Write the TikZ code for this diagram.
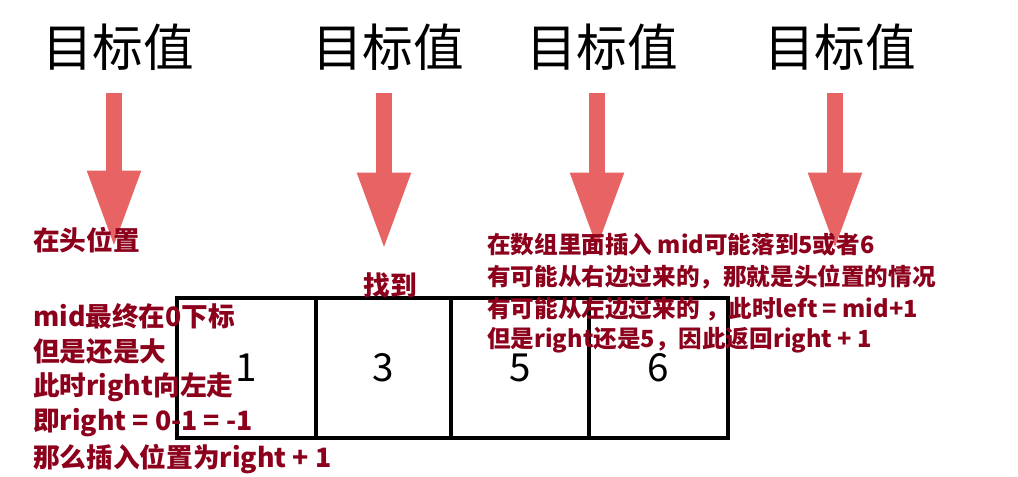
\documentclass[tikz,border=0pt]{standalone}
\usepackage{fontspec}
\setmainfont{Noto Sans CJK SC}
\usetikzlibrary{arrows.meta}
\definecolor{arrowred}{RGB}{232,100,100}
\definecolor{notered}{RGB}{140,0,28}
\tikzset{
  target/.style={font=\fontsize{38pt}{40pt}\selectfont, text=black, inner sep=0pt},
  bigarrow/.style={draw=arrowred, line width=12pt, -{Triangle[width=37pt,length=58pt]}},
  cell/.style={draw=black, line width=2.6pt, inner sep=0pt, outer sep=0pt, minimum height=105pt, font=\fontsize{29pt}{32pt}\selectfont},
  leftnote/.style={anchor=west, text=notered, inner sep=0pt, font=\bfseries\fontsize{20pt}{22pt}\selectfont},
  rightnote/.style={anchor=west, text=notered, inner sep=0pt, font=\bfseries\fontsize{17.7pt}{20pt}\selectfont}
}
\begin{document}
\begin{tikzpicture}[x=0.75pt,y=-0.75pt]
\useasboundingbox (0,0) rectangle (1018,477);
% target labels
\node[target] (t1) at (118,47) {目标值};
\node[target] (t2) at (388,47) {目标值};
\node[target] (t3) at (602,47) {目标值};
\node[target] (t4) at (840,47) {目标值};
% arrow endpoints
\coordinate (a1s) at (114,93);  \coordinate (a1e) at (114,248);
\coordinate (a2s) at (384,93);  \coordinate (a2e) at (384,250);
\coordinate (a3s) at (597,93);  \coordinate (a3e) at (597,250);
\coordinate (a4s) at (835,93);  \coordinate (a4e) at (835,250);
\draw[bigarrow] (a1s) -- (a1e);
\draw[bigarrow] (a2s) -- (a2e);
\draw[bigarrow] (a3s) -- (a3e);
\draw[bigarrow] (a4s) -- (a4e);
% array cells
\node[cell, minimum width=104.25pt] (c1) at (246.5,368) {1};
\node[cell, minimum width=101.25pt] (c2) at (383.5,368) {3};
\node[cell, minimum width=103.5pt] (c3) at (520,368) {5};
\node[cell, minimum width=104.25pt] (c4) at (658.5,368) {6};
% left notes
\node[leftnote] (l1) at (33,240) {在头位置};
\node[leftnote] (l2) at (33,316) {mid最终在0下标};
\node[leftnote] (l3) at (33,352) {但是还是大};
\node[leftnote] (l4) at (33,387) {此时right向左走};
\node[leftnote] (l5) at (33,423) {即right = 0-1 = -1};
\node[leftnote] (l6) at (33,459) {那么插入位置为right + 1};
% found
\node[leftnote, anchor=center] (f) at (390,285) {找到};
% right notes
\node[rightnote] (r1) at (487,245) {在数组里面插入 mid可能落到5或者6};
\node[rightnote] (r2) at (487,277) {有可能从右边过来的，那就是头位置的情况};
\node[rightnote] (r3) at (487,309) {有可能从左边过来的 ，此时left = mid+1};
\node[rightnote] (r4) at (487,340) {但是right还是5，因此返回right + 1};
\end{tikzpicture}
\end{document}
